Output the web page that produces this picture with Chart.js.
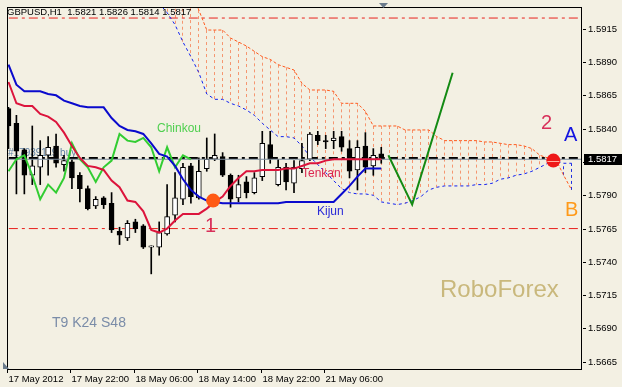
<!DOCTYPE html>
<html lang="en">
<head>
<meta charset="UTF-8">
<title>GBPUSD H1 - Ichimoku</title>
<style>
  html, body { margin: 0; padding: 0; background: #f3f0e3; }
  #wrap { width: 622px; height: 387px; }
</style>
</head>
<body>
<div id="wrap"><canvas id="chart" width="622" height="387"></canvas></div>
<script src="https://cdn.jsdelivr.net/npm/chart.js"></script>
<script>
// hourly candles, 17 May 2012 14:00 .. 21 May 13:00
const open  = [1.5855,1.5844,1.5824,1.5805,1.5811,1.5820,1.5827,1.5813,1.5815,1.5805,1.5795,1.5782,1.5788,1.5784,1.5763,1.5758,1.5770,1.5767,1.5751,1.5751,1.5761,1.5775,1.5787,1.5812,1.5788,1.5810,1.5817,1.5819,1.5805,1.5788,1.5800,1.5792,1.5804,1.5828,1.5798,1.5811,1.5799,1.5810,1.5817,1.5835,1.5831,1.5831,1.5834,1.5825,1.5809,1.5827,1.5812,1.5821];
const high  = [1.5856,1.5850,1.5825,1.5842,1.5831,1.5834,1.5836,1.5820,1.5818,1.5807,1.5797,1.5789,1.5789,1.5792,1.5766,1.5771,1.5772,1.5768,1.5752,1.5770,1.5798,1.5807,1.5814,1.5814,1.5818,1.5833,1.5836,1.5822,1.5806,1.5805,1.5804,1.5807,1.5838,1.5838,1.5817,1.5814,1.5816,1.5829,1.5837,1.5838,1.5835,1.5838,1.5838,1.5831,1.5831,1.5837,1.5825,1.5826];
const low   = [1.5825,1.5791,1.5791,1.5798,1.5798,1.5805,1.5811,1.5808,1.5795,1.5785,1.5779,1.5780,1.5780,1.5762,1.5753,1.5756,1.5762,1.5750,1.5731,1.5745,1.5760,1.5770,1.5783,1.5784,1.5787,1.5808,1.5816,1.5804,1.5781,1.5785,1.5788,1.5791,1.5801,1.5814,1.5797,1.5794,1.5792,1.5807,1.5816,1.5828,1.5825,1.5825,1.5823,1.5803,1.5794,1.5807,1.5805,1.5814];
const close = [1.5842,1.5823,1.5805,1.5812,1.5820,1.5826,1.5814,1.5816,1.5803,1.5795,1.5780,1.5787,1.5783,1.5764,1.5760,1.5769,1.5765,1.5751,1.5752,1.5762,1.5774,1.5788,1.5811,1.5789,1.5808,1.5817,1.5820,1.5805,1.5787,1.5798,1.5792,1.5803,1.5829,1.5817,1.5811,1.5800,1.5811,1.5816,1.5836,1.5831,1.5830,1.5833,1.5826,1.5808,1.5826,1.5811,1.5820,1.5817];

const tenkan = [1.5875,1.5859,1.5857,1.5857,1.5851,1.5849,1.5845,1.5837,1.5827,1.5818,1.5812,1.5811,1.5809,1.5801,1.5796,1.5786,1.5785,1.5778,1.5764,1.5762,1.5765,1.5771,1.5776,1.5776,1.5776,1.5780,1.5785,1.5789,1.5797,1.5803,1.5808,1.5808,1.5809,1.5809,1.5809,1.5810,1.5810,1.5812,1.5814,1.5814,1.5816,1.5817,1.5817,1.5817,1.5817,1.5817,1.5817,1.5817];
const kijun  = [1.5888,1.5873,1.5868,1.5868,1.5868,1.5866,1.5865,1.5861,1.5859,1.5857,1.5856,1.5856,1.5856,1.5848,1.5842,1.5839,1.5838,1.5836,1.5829,1.5821,1.5819,1.5812,1.5802,1.5794,1.5789,1.5786,1.5785,1.5784,1.5784,1.5784,1.5784,1.5784,1.5784,1.5784,1.5784,1.5785,1.5785,1.5785,1.5785,1.5785,1.5785,1.5785,1.5791,1.5797,1.5804,1.5810,1.5810,1.5810];
const chinkou = [1.5808,1.5817,1.5820,1.5805,1.5787,1.5798,1.5792,1.5803,1.5829,1.5817,1.5811,1.5800,1.5811,1.5816,1.5836,1.5831,1.5830,1.5833,1.5826,1.5808,1.5826,1.5811,1.5820,1.5817];

// cloud, shifted 24 bars ahead (null = not drawn)
const spanA = [null,null,null,null,null,null,null,null,null,null,null,null,null,null,null,null,null,null,null,null,
  1.5948,1.5948,1.5948,1.5944,1.5929,1.5914,1.5914,1.5914,1.5908,1.5905,1.5902,1.5898,1.5894,1.5892,1.5888,1.5886,1.5884,1.5874,1.5869,1.5869,
  1.5869,1.5868,1.5859,1.5859,1.5859,1.5853,1.5842,1.5842,1.5842,1.5842,1.5839,1.5839,1.5839,1.5839,1.5834,1.5831,1.5831,1.5831,1.5831,1.5831,
  1.5830,1.5830,1.5829,1.5828,1.5828,1.5827,1.5825,1.5820,1.5818,1.5817,1.5805,1.5794];
const spanB = [null,null,null,null,null,null,null,null,null,null,null,null,null,null,null,null,null,null,1.5942,1.5934,
  1.5927,1.5918,1.5905,1.5894,1.5882,1.5866,1.5862,1.5862,1.5859,1.5857,1.5854,1.5850,1.5844,1.5839,1.5834,1.5834,1.5833,1.5827,1.5819,1.5813,
  1.5807,1.5801,1.5795,1.5792,1.5791,1.5791,1.5790,1.5785,1.5784,1.5783,1.5784,1.5786,1.5789,1.5794,1.5796,1.5797,1.5797,1.5797,1.5797,1.5798,
  1.5798,1.5799,1.5802,1.5803,1.5805,1.5806,1.5808,1.5811,1.5814,1.5816,1.5814,1.5814];

// hand drawn objects
const forecastX = [47.9, 50.9, 56.0];
const forecastY = [1.5820, 1.5783, 1.5882];
const crossX = [25.8, 68.7];
const crossY = [1.5786, 1.5816];
const redLevels = [1.5923, 1.5765];
const orderLevel = 1.5818;
const bid = 1.5817;

// axes
const yTicks = [1.5915, 1.5890, 1.5865, 1.5840, 1.5815, 1.5790, 1.5765, 1.5740, 1.5715, 1.5690, 1.5665];
const xTickIdx = [0, 8, 16, 24, 32, 40];
const xTickLabels = ['17 May 2012', '17 May 22:00', '18 May 06:00', '18 May 14:00', '18 May 22:00', '21 May 06:00'];

const AXIS_FONT = '9.5px "Liberation Sans"';

function pts(xs, ys) {
    return ys.map((v, i) => ({ x: xs ? xs[i] : i, y: v }));
}
function level(v) {
    return [{ x: -5, y: v }, { x: 80, y: v }];
}

const decor = {
    id: 'decor',
    beforeDatasetsDraw(chart) {
        const { ctx, chartArea: a, scales: { x, y } } = chart;
        ctx.save();
        ctx.beginPath();
        ctx.rect(a.left, a.top, a.right - a.left, a.bottom - a.top);
        ctx.clip();
        // cloud hatching
        ctx.lineWidth = 1;
        ctx.setLineDash([3, 3]);
        for (let i = 0; i < spanA.length; i++) {
            if (spanA[i] == null || spanB[i] == null) continue;
            const px = Math.floor(x.getPixelForValue(i)) + 0.5;
            ctx.strokeStyle = spanA[i] >= spanB[i] ? '#f59670' : '#2030e0';
            ctx.beginPath();
            ctx.moveTo(px, y.getPixelForValue(spanA[i]));
            ctx.lineTo(px, y.getPixelForValue(spanB[i]));
            ctx.stroke();
        }
        ctx.setLineDash([]);
        // order label
        ctx.font = '10px "Liberation Sans"';
        ctx.fillStyle = '#5d7fa3';
        ctx.textBaseline = 'alphabetic';
        ctx.fillText('#17939119 buy', 8, y.getPixelForValue(orderLevel) - 2);
        ctx.restore();
    },
    afterDatasetsDraw(chart) {
        const { ctx, scales: { x, y } } = chart;
        ctx.save();
        // light stripe across the second cross marker
        ctx.strokeStyle = '#ffb0a0';
        ctx.lineWidth = 1;
        const cy = Math.round(y.getPixelForValue(crossY[1])) + 0.5;
        const cx = x.getPixelForValue(crossX[1]);
        ctx.beginPath();
        ctx.moveTo(cx - 6, cy);
        ctx.lineTo(cx + 6, cy);
        ctx.stroke();

        ctx.textBaseline = 'alphabetic';
        ctx.font = '12px "Liberation Sans"';
        ctx.fillStyle = '#4fcf4f';
        ctx.fillText('Chinkou', 157, 132);
        ctx.fillStyle = '#dc2650';
        ctx.fillText('Tenkan', 302, 177);
        ctx.fillStyle = '#2a2ad8';
        ctx.fillText('Kijun', 317, 215);
        ctx.font = '20px "Liberation Sans"';
        ctx.fillStyle = '#d8305a';
        ctx.fillText('1', 205, 232);
        ctx.fillText('2', 541, 129);
        ctx.fillStyle = '#1414e0';
        ctx.fillText('A', 564, 141);
        ctx.fillStyle = '#ff9a1a';
        ctx.fillText('B', 565, 216);
        ctx.font = '24px "Liberation Sans"';
        ctx.fillStyle = '#c9b87c';
        ctx.fillText('RoboForex', 440, 297);
        ctx.font = '14px "Liberation Sans"';
        ctx.fillStyle = '#7a8ca8';
        ctx.fillText('T9 K24 S48', 52, 327);
        ctx.restore();
    },
    afterDraw(chart) {
        const { ctx, chartArea: a, scales: { x, y } } = chart;
        ctx.save();
        // frame
        ctx.strokeStyle = '#000';
        ctx.lineWidth = 1;
        ctx.strokeRect(a.left + 0.5, a.top + 0.5, a.right - a.left - 1, a.bottom - a.top);
        // price axis
        ctx.font = AXIS_FONT;
        ctx.fillStyle = '#000';
        ctx.textBaseline = 'middle';
        yTicks.forEach(v => {
            const py = Math.round(y.getPixelForValue(v));
            ctx.beginPath();
            ctx.moveTo(a.right + 1, py + 0.5);
            ctx.lineTo(a.right + 4, py + 0.5);
            ctx.stroke();
            ctx.fillText(v.toFixed(4), a.right + 6, py);
        });
        const by = y.getPixelForValue(bid);
        ctx.fillStyle = '#000';
        ctx.fillRect(a.right + 2, Math.round(by) - 5, 40, 11);
        ctx.fillStyle = '#fff';
        ctx.fillText(bid.toFixed(4), a.right + 6, by + 0.5);
        // time axis
        ctx.fillStyle = '#000';
        ctx.textBaseline = 'alphabetic';
        xTickIdx.forEach((v, i) => {
            const px = Math.floor(x.getPixelForValue(v)) - 0.5;
            ctx.beginPath();
            ctx.moveTo(px, a.bottom);
            ctx.lineTo(px, a.bottom + 4);
            ctx.stroke();
            ctx.fillText(xTickLabels[i], px + 1, a.bottom + 13);
        });
        // header
        ctx.fillText('GBPUSD,H1  1.5821 1.5826 1.5814 1.5817', 7, 15);
        // shift markers
        ctx.fillStyle = '#6b7b8c';
        ctx.beginPath();
        ctx.moveTo(379, 3); ctx.lineTo(388, 3); ctx.lineTo(383.5, 8); ctx.closePath();
        ctx.fill();
        ctx.beginPath();
        ctx.moveTo(3, 362); ctx.lineTo(3, 369); ctx.lineTo(9, 369); ctx.closePath();
        ctx.fill();
        ctx.restore();
    }
};

const ctx = document.getElementById('chart').getContext('2d');
const chart = new Chart(ctx, {
    type: 'bar',
    data: {
        datasets: [
            { type: 'line', data: pts(crossX, crossY), showLine: false, pointRadius: 7,
              pointBackgroundColor: ['#ff5a14', '#ee1818'], pointBorderWidth: 0, order: 0 },
            { type: 'line', data: pts(forecastX, forecastY), borderColor: '#138a13', borderWidth: 2,
              pointRadius: 0, order: 1 },
            { type: 'line', data: pts(null, tenkan), borderColor: '#dc143c', borderWidth: 2, pointRadius: 0, order: 2 },
            { type: 'line', data: pts(null, kijun), borderColor: '#0a0acd', borderWidth: 2, pointRadius: 0, order: 3 },
            { type: 'line', data: pts(null, chinkou), borderColor: '#32cd32', borderWidth: 2, pointRadius: 0, order: 4 },
            { type: 'line', data: level(bid), borderColor: '#7a8a9a', borderWidth: 1, pointRadius: 0, order: 5 },
            { data: open.map((o, i) => ({ x: i, y: [o, close[i]] })),
              backgroundColor: open.map((o, i) => close[i] >= o ? '#ffffff' : '#000000'),
              borderColor: '#000', borderWidth: 1, borderSkipped: false, barThickness: 5, grouped: false, order: 6 },
            { data: low.map((l, i) => ({ x: i, y: [l, high[i]] })),
              backgroundColor: '#000', barThickness: 1, grouped: false, order: 7 },
            { type: 'line', data: pts(null, spanA), borderColor: '#ff5a1e', borderWidth: 1, borderDash: [3, 2],
              pointRadius: 0, order: 8 },
            { type: 'line', data: pts(null, spanB), borderColor: '#1020f0', borderWidth: 1, borderDash: [3, 3],
              pointRadius: 0, order: 9 },
            { type: 'line', data: level(orderLevel), borderColor: '#000', borderWidth: 2, borderDash: [9, 4, 3, 4],
              pointRadius: 0, order: 10 },
            { type: 'line', data: level(redLevels[0]), borderColor: '#e8201c', borderWidth: 1, borderDash: [9, 4, 3, 4],
              pointRadius: 0, order: 11 },
            { type: 'line', data: level(redLevels[1]), borderColor: '#e8201c', borderWidth: 1, borderDash: [9, 4, 3, 4],
              pointRadius: 0, order: 11 }
        ]
    },
    options: {
        responsive: false,
        animation: false,
        devicePixelRatio: 1,
        layout: { padding: { left: 2, top: 2, right: 40, bottom: 18 } },
        plugins: { legend: { display: false }, tooltip: { enabled: false } },
        scales: {
            x: { type: 'linear', display: false, offset: false, min: -0.1875, max: 72.3125 },
            y: { type: 'linear', display: false, min: 1.565960, max: 1.593129 }
        }
    },
    plugins: [decor]
});
</script>
</body>
</html>
